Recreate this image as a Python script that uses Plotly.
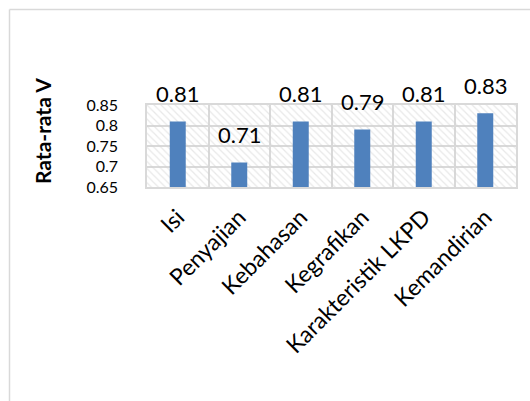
import plotly.graph_objects as go

# Average V score per LKPD aspect
aspects = ["Isi", "Penyajian", "Kebahasan", "Kegrafikan", "Karakteristik LKPD", "Kemandirian"]
scores = [0.81, 0.71, 0.81, 0.79, 0.81, 0.83]
y_ticks = [0.65, 0.70, 0.75, 0.80, 0.85]

W, H = 530, 401
L, R, T, B = 147, 14, 105, 214
plot_w = W - L - R
plot_h = H - T - B

BAR = "#4F81BD"
GRID = "#D9D9D9"
FONT = "Lato"

fig = go.Figure()

# hatched plot-area background on the (hidden) base axes
fig.add_trace(go.Scatter(
    x=[0, 1, 1, 0, 0], y=[0, 0, 1, 1, 0],
    xaxis="x", yaxis="y",
    mode="lines", line=dict(width=0),
    fill="toself", fillcolor="rgba(0,0,0,0)",
    fillpattern=dict(shape="\\", fgcolor="#D2D2D2", bgcolor="rgba(0,0,0,0)",
                     size=5, solidity=0.25),
    hoverinfo="skip", showlegend=False,
))

# bars on the overlay axes, drawn above the hatching
fig.add_trace(go.Bar(
    x=aspects, y=scores,
    xaxis="x2", yaxis="y2",
    marker=dict(color=BAR, line=dict(width=0)),
    showlegend=False,
))

# value labels above each bar
for a, s in zip(aspects, scores):
    fig.add_annotation(
        x=a, y=s, xref="x2", yref="y2",
        text=f"{s:g}", showarrow=False,
        yanchor="middle", yshift=28,
        font=dict(family=FONT, size=22, color="#000000"),
    )

# axis title
fig.add_annotation(
    x=(42 - L) / plot_w, y=(H - B - 131) / plot_h,
    xref="paper", yref="paper",
    text="<b>Rata-rata V</b>", textangle=-90, showarrow=False,
    xanchor="center", yanchor="middle",
    font=dict(family=FONT, size=21, color="#000000"),
)

# chart frame, running off the right and bottom edges
fx = (9.5 - L) / plot_w
fy = (H - B - 9.5) / plot_h
fig.add_shape(type="line", xref="paper", yref="paper",
              x0=fx, x1=fx, y0=-3.0, y1=fy,
              line=dict(color=GRID, width=1.5))
fig.add_shape(type="line", xref="paper", yref="paper",
              x0=fx, x1=1.5, y0=fy, y1=fy,
              line=dict(color=GRID, width=1.5))

fig.update_layout(
    width=W, height=H,
    margin=dict(l=L, r=R, t=T, b=B),
    paper_bgcolor="white", plot_bgcolor="white",
    bargap=0.74,
    font=dict(family=FONT, color="#000000"),
    xaxis=dict(range=[0, 1], visible=False, fixedrange=True),
    yaxis=dict(range=[0, 1], visible=False, fixedrange=True),
    xaxis2=dict(
        overlaying="x", type="category", tickson="boundaries",
        showgrid=True, gridcolor=GRID, gridwidth=1.5,
        showline=True, linecolor=GRID, linewidth=1.5, mirror=True,
        ticks="", tickangle=-45, ticklabelstandoff=6,
        tickfont=dict(family=FONT, size=23),
    ),
    yaxis2=dict(
        overlaying="y", range=[0.65, 0.85], tickvals=y_ticks,
        showgrid=True, gridcolor=GRID, gridwidth=1.5,
        showline=True, linecolor=GRID, linewidth=1.5, mirror=True,
        ticks="", ticklabelstandoff=24, zeroline=False,
        tickfont=dict(family=FONT, size=16),
    ),
)

fig.write_html("out.html")
